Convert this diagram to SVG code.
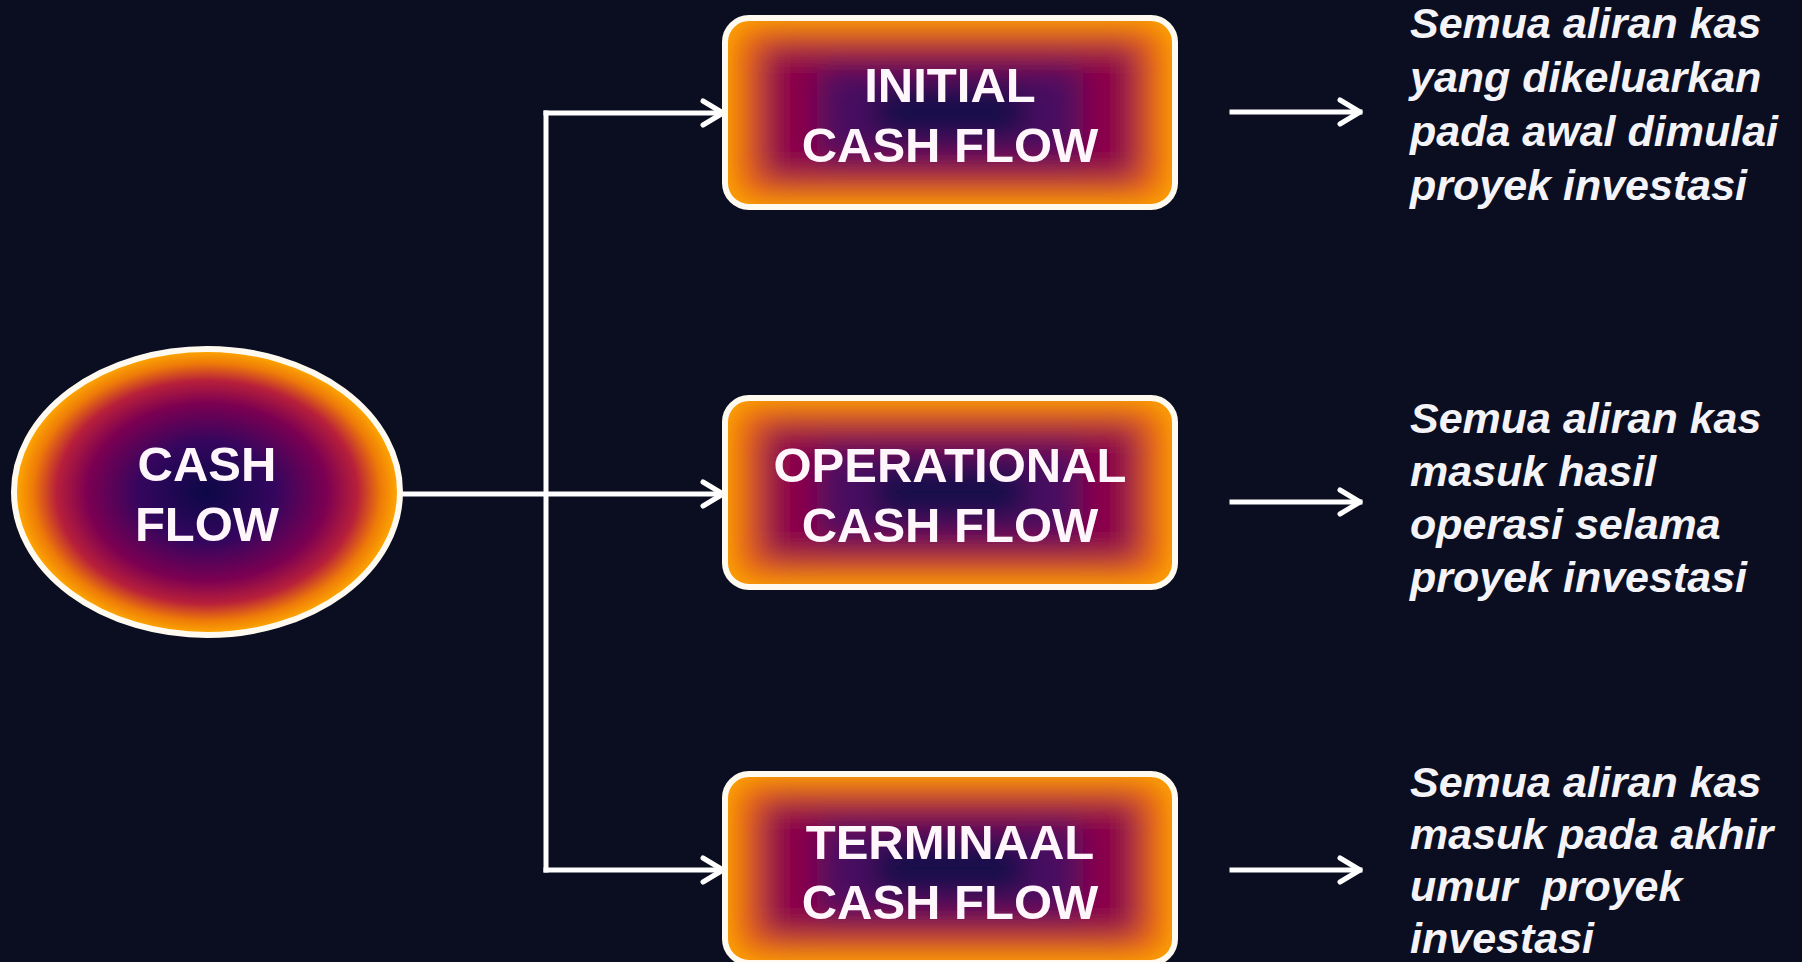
<svg xmlns="http://www.w3.org/2000/svg" width="1802" height="962" viewBox="0 0 1802 962">
  <style>
    .label { font-family: "Liberation Sans", Arial, sans-serif; font-weight: bold; font-size: 49px; fill: #fff6fb; text-anchor: middle; }
    .desc { font-family: "Liberation Sans", Arial, sans-serif; font-weight: bold; font-style: italic; font-size: 43px; fill: #f4f4f8; }
    .wire { fill: none; stroke: #ffffff; stroke-width: 5; stroke-linecap: square; }
    .frame { fill: none; stroke: #fffaf0; stroke-width: 6; }
  </style>
  <defs>
    <marker id="chev" markerUnits="userSpaceOnUse" markerWidth="30" markerHeight="32" refX="24" refY="15" orient="auto">
      <path d="M4,3 L24,15 L4,27" fill="none" stroke="#ffffff" stroke-width="5" stroke-linecap="round" stroke-linejoin="round"/>
    </marker>
    <radialGradient id="ovalFill" cx="0.5" cy="0.5" r="0.5">
      <stop offset="0" stop-color="#0c0846"/>
      <stop offset="0.35" stop-color="#34065e"/>
      <stop offset="0.62" stop-color="#7c0052"/>
      <stop offset="0.78" stop-color="#b8203a"/>
      <stop offset="0.9" stop-color="#ee7a08"/>
      <stop offset="1" stop-color="#ffac00"/>
    </radialGradient>
    <filter id="soften" x="-10%" y="-10%" width="120%" height="120%"><feGaussianBlur stdDeviation="15"/></filter>
    <clipPath id="boxClip">
      <rect x="0" y="0" width="450" height="189" rx="24"/>
    </clipPath>
    <!-- shaded box body in local coordinates, 450 x 189 -->
    <g id="boxBody">
      <g clip-path="url(#boxClip)">
        <rect x="0" y="0" width="450" height="189" fill="#ffa600"/>
        <g filter="url(#soften)">
          <rect x="12" y="10" width="426" height="169" rx="16" fill="#e25c14"/>
          <rect x="36" y="26" width="378" height="137" rx="14" fill="#8c0048"/>
          <rect x="92" y="48" width="266" height="93" rx="12" fill="#4a0860"/>
          <rect x="150" y="70" width="150" height="48" rx="10" fill="#0c0a48"/>
        </g>
      </g>
      <rect class="frame" x="0" y="0" width="450" height="189" rx="24"/>
    </g>
  </defs>

  <rect x="0" y="0" width="1802" height="962" fill="#0b0d21"/>

  <!-- connectors -->
  <g id="connectors">
    <path class="wire" d="M400,494 L723,494" marker-end="url(#chev)"/>
    <path class="wire" d="M546,113 L546,870"/>
    <path class="wire" d="M546,113 L723,113" marker-end="url(#chev)"/>
    <path class="wire" d="M546,870 L723,870" marker-end="url(#chev)"/>
    <path class="wire" d="M1232,112 L1360,112" marker-end="url(#chev)"/>
    <path class="wire" d="M1232,502 L1360,502" marker-end="url(#chev)"/>
    <path class="wire" d="M1232,870 L1360,870" marker-end="url(#chev)"/>
  </g>

  <!-- root node -->
  <g id="cash-flow">
    <ellipse cx="207" cy="492" rx="193" ry="143" fill="url(#ovalFill)" stroke="#fffaf0" stroke-width="6"/>
    <text class="label" x="207" y="481">CASH</text>
    <text class="label" x="207" y="541">FLOW</text>
  </g>

  <g id="initial-cash-flow">
    <use href="#boxBody" x="725" y="18"/>
    <text class="label" x="950" y="102">INITIAL</text>
    <text class="label" x="950" y="162">CASH FLOW</text>
  </g>

  <g id="operational-cash-flow">
    <use href="#boxBody" x="725" y="398"/>
    <text class="label" x="950" y="482">OPERATIONAL</text>
    <text class="label" x="950" y="542">CASH FLOW</text>
  </g>

  <g id="terminaal-cash-flow">
    <use href="#boxBody" x="725" y="774"/>
    <text class="label" x="950" y="859">TERMINAAL</text>
    <text class="label" x="950" y="919">CASH FLOW</text>
  </g>

  <!-- descriptions -->
  <g id="desc-initial">
    <text class="desc" x="1410" y="38">Semua aliran kas</text>
    <text class="desc" x="1410" y="92">yang dikeluarkan</text>
    <text class="desc" x="1410" y="146">pada awal dimulai</text>
    <text class="desc" x="1410" y="200">proyek investasi</text>
  </g>
  <g id="desc-operational">
    <text class="desc" x="1410" y="433">Semua aliran kas</text>
    <text class="desc" x="1410" y="486">masuk hasil</text>
    <text class="desc" x="1410" y="539">operasi selama</text>
    <text class="desc" x="1410" y="592">proyek investasi</text>
  </g>
  <g id="desc-terminaal">
    <text class="desc" x="1410" y="797">Semua aliran kas</text>
    <text class="desc" x="1410" y="849">masuk pada akhir</text>
    <text class="desc" x="1410" y="901" xml:space="preserve">umur  proyek</text>
    <text class="desc" x="1410" y="953">investasi</text>
  </g>
</svg>
